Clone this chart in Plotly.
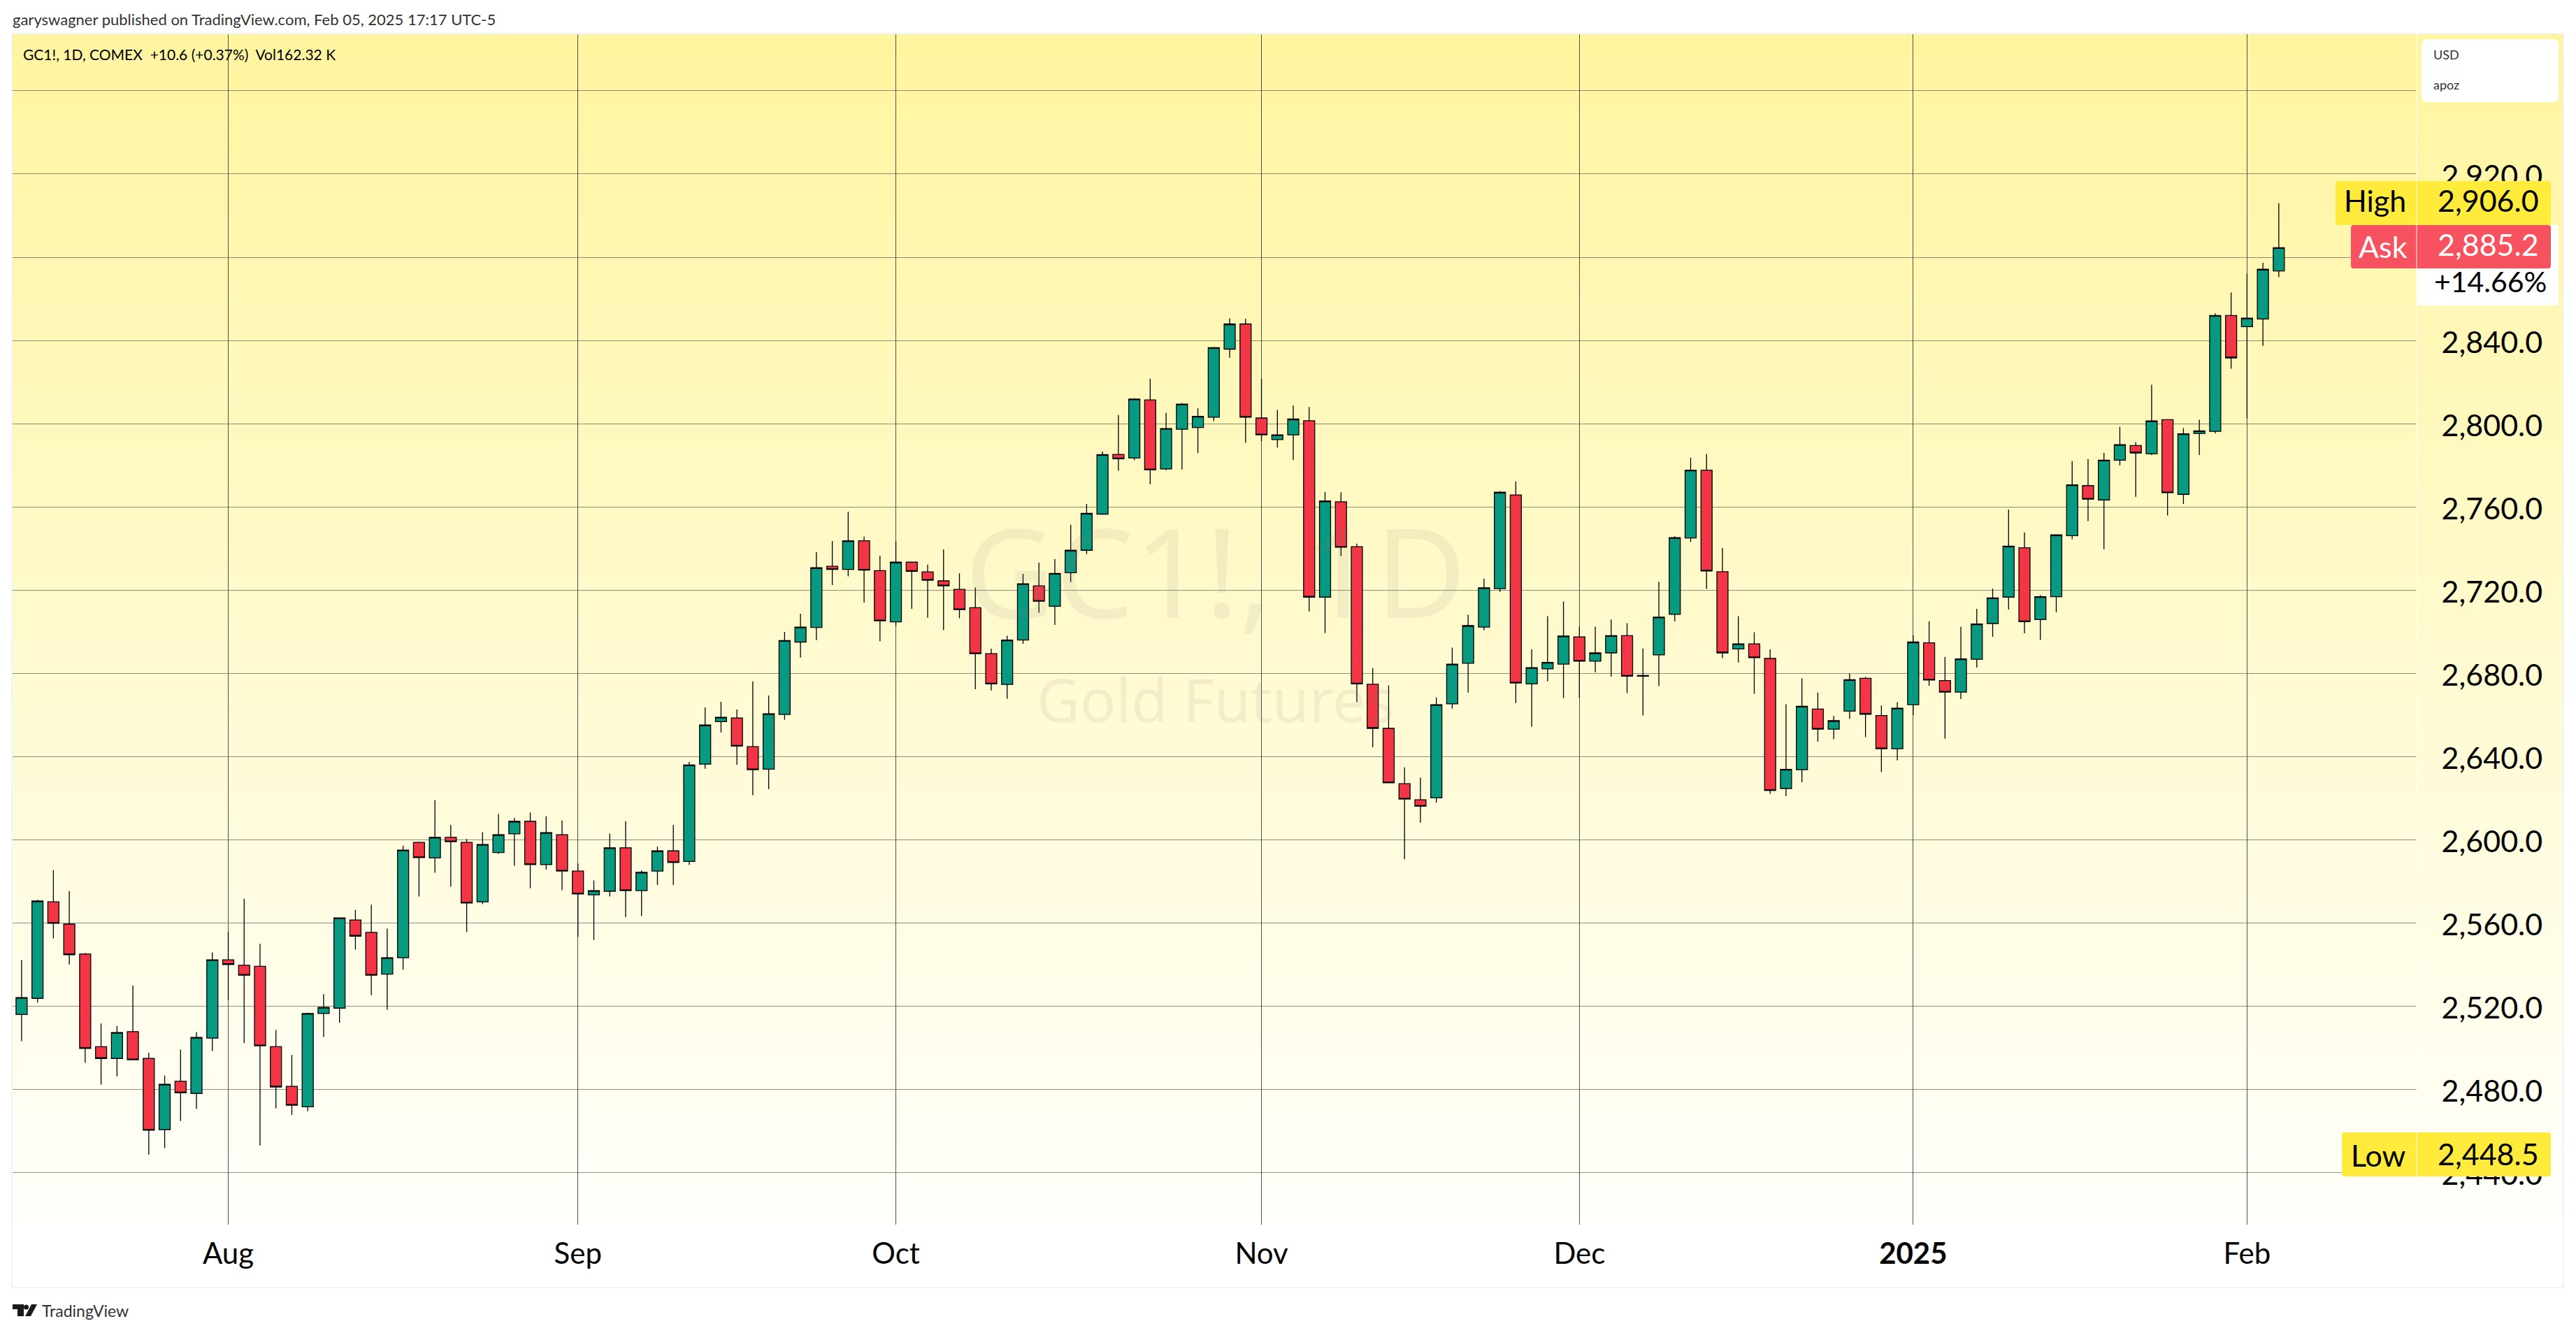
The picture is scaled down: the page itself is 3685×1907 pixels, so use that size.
import pandas as pd
import plotly.graph_objects as go

W, H = 3685, 1907
PL, PR, PT, PB = 18, 3457, 49, 1752   # plot area in page pixels
FONT = "Lato"

HOLIDAYS = ["2024-09-02", "2024-11-28", "2024-12-25", "2025-01-01", "2025-01-20"]
dates = [d.strftime("%Y-%m-%d") for d in pd.bdate_range("2024-07-15", "2025-02-05") if d.strftime("%Y-%m-%d") not in HOLIDAYS]

opens = [2515.9, 2523.7, 2570.1, 2559.4, 2545.0, 2500.5, 2494.8, 2507.7, 2494.8, 2460.6,
         2483.8, 2478.0, 2504.6, 2542.2, 2539.6, 2539.1, 2500.5, 2481.4, 2471.6, 2516.4,
         2519.0, 2561.4, 2555.4, 2535.3, 2543.2, 2598.7, 2591.2, 2601.1, 2598.7, 2570.1,
         2593.8, 2602.8, 2608.8, 2588.0, 2602.4, 2584.9, 2573.5, 2575.2, 2596.1, 2575.5,
         2584.9, 2594.6, 2589.5, 2636.3, 2656.7, 2658.5, 2644.7, 2633.9, 2660.2, 2695.0,
         2702.0, 2731.4, 2729.9, 2743.7, 2729.3, 2704.7, 2733.4, 2728.7, 2724.4, 2720.3,
         2711.5, 2689.4, 2674.6, 2696.0, 2722.0, 2712.2, 2728.3, 2739.1, 2756.5, 2785.2,
         2783.5, 2811.4, 2778.2, 2797.3, 2798.1, 2803.1, 2835.8, 2847.9, 2802.7, 2792.3,
         2794.6, 2801.4, 2716.6, 2762.4, 2740.8, 2674.7, 2653.5, 2626.9, 2619.2, 2620.1,
         2665.3, 2684.8, 2702.2, 2720.7, 2765.7, 2674.9, 2682.1, 2684.4, 2697.5, 2685.8,
         2689.8, 2698.1, 2678.9, 2688.8, 2708.3, 2745.0, 2777.6, 2728.8, 2691.7, 2694.1,
         2687.1, 2624.6, 2633.6, 2662.8, 2653.1, 2661.8, 2677.6, 2659.7, 2643.7, 2664.9,
         2694.6, 2676.5, 2670.9, 2686.7, 2703.9, 2716.6, 2740.3, 2705.8, 2716.8, 2746.1,
         2770.2, 2763.3, 2782.4, 2789.5, 2785.5, 2801.9, 2766.0, 2795.3, 2796.3, 2852.0,
         2846.6, 2850.3, 2873.4]
highs = [2542.1, 2571.1, 2585.4, 2575.3, 2545.5, 2511.6, 2510.4, 2529.9, 2497.6, 2486.6,
         2499.1, 2507.5, 2545.8, 2555.7, 2571.6, 2549.9, 2508.5, 2496.5, 2516.8, 2525.7,
         2562.4, 2566.2, 2568.7, 2557.2, 2597.1, 2599.0, 2619.0, 2607.0, 2600.3, 2603.6,
         2612.3, 2610.4, 2613.1, 2611.2, 2609.2, 2588.5, 2580.4, 2602.9, 2608.9, 2585.2,
         2596.6, 2607.0, 2637.4, 2663.6, 2666.3, 2662.6, 2676.1, 2669.3, 2699.9, 2708.6,
         2738.2, 2743.6, 2757.7, 2745.7, 2736.5, 2743.6, 2733.6, 2732.2, 2739.5, 2728.1,
         2721.2, 2691.8, 2698.0, 2727.8, 2733.2, 2734.9, 2751.4, 2761.4, 2786.7, 2804.1,
         2812.2, 2821.6, 2805.2, 2809.9, 2807.3, 2836.9, 2850.6, 2850.4, 2821.5, 2806.6,
         2808.7, 2808.0, 2767.2, 2767.0, 2742.3, 2682.5, 2674.2, 2634.8, 2629.8, 2668.4,
         2692.3, 2708.1, 2725.5, 2767.6, 2772.2, 2691.5, 2707.4, 2714.5, 2702.4, 2702.4,
         2705.8, 2704.1, 2691.9, 2724.0, 2745.8, 2783.6, 2785.4, 2740.2, 2707.4, 2699.7,
         2691.5, 2665.1, 2677.6, 2670.7, 2659.5, 2679.8, 2678.2, 2664.5, 2666.1, 2698.3,
         2705.0, 2687.9, 2702.3, 2711.0, 2720.7, 2758.7, 2747.7, 2717.6, 2746.5, 2782.0,
         2783.0, 2785.9, 2798.4, 2791.1, 2818.7, 2801.9, 2797.8, 2801.9, 2853.0, 2863.0,
         2872.1, 2877.3, 2906.0]
lows = [2503.1, 2521.6, 2552.5, 2540.0, 2492.7, 2482.2, 2486.2, 2494.0, 2448.5, 2451.7,
        2464.7, 2470.5, 2498.4, 2522.9, 2502.2, 2453.0, 2470.8, 2467.7, 2469.4, 2505.1,
        2511.9, 2547.1, 2525.2, 2518.2, 2537.4, 2572.7, 2584.1, 2577.4, 2555.5, 2569.0,
        2593.2, 2587.5, 2576.6, 2585.6, 2575.7, 2553.3, 2551.8, 2572.7, 2562.8, 2563.3,
        2578.1, 2578.1, 2587.9, 2634.1, 2651.5, 2636.0, 2621.3, 2624.3, 2657.6, 2687.5,
        2695.9, 2722.4, 2726.6, 2714.0, 2695.3, 2702.8, 2711.0, 2706.7, 2700.7, 2706.4,
        2672.3, 2671.7, 2667.7, 2694.2, 2709.1, 2703.2, 2723.8, 2737.3, 2756.2, 2777.3,
        2782.4, 2770.9, 2777.6, 2777.9, 2785.8, 2801.2, 2831.7, 2790.8, 2791.5, 2788.5,
        2782.5, 2709.7, 2699.3, 2736.3, 2666.1, 2644.4, 2627.1, 2590.6, 2608.1, 2617.8,
        2663.0, 2670.7, 2700.6, 2719.1, 2665.7, 2654.3, 2676.1, 2668.0, 2668.2, 2680.5,
        2678.4, 2670.5, 2659.7, 2673.8, 2704.9, 2743.1, 2720.5, 2687.3, 2685.2, 2670.1,
        2622.0, 2620.9, 2627.6, 2647.1, 2648.3, 2658.0, 2649.3, 2632.5, 2638.1, 2659.9,
        2674.0, 2648.5, 2667.6, 2682.7, 2697.5, 2710.6, 2699.2, 2696.0, 2709.3, 2744.4,
        2753.1, 2739.6, 2779.9, 2764.8, 2784.9, 2755.8, 2761.4, 2784.9, 2795.3, 2826.4,
        2802.5, 2837.4, 2870.4]
closes = [2524.1, 2570.5, 2559.8, 2544.7, 2499.6, 2494.8, 2507.3, 2494.2, 2460.3, 2482.4,
          2478.3, 2504.9, 2542.2, 2540.0, 2534.8, 2500.9, 2481.1, 2472.3, 2516.4, 2519.4,
          2562.4, 2553.6, 2534.8, 2543.2, 2595.0, 2591.4, 2601.1, 2599.0, 2569.5, 2597.7,
          2602.4, 2608.8, 2588.0, 2603.4, 2584.9, 2573.9, 2575.5, 2596.1, 2575.5, 2584.3,
          2594.6, 2589.0, 2635.9, 2655.1, 2658.8, 2645.0, 2633.6, 2660.5, 2695.7, 2702.2,
          2730.7, 2729.9, 2743.7, 2729.6, 2705.2, 2733.4, 2729.0, 2724.7, 2722.0, 2710.6,
          2689.4, 2674.9, 2696.0, 2723.0, 2714.6, 2728.0, 2739.1, 2756.9, 2785.1, 2783.1,
          2811.8, 2777.8, 2797.6, 2809.4, 2803.5, 2836.5, 2847.9, 2803.1, 2794.6, 2794.6,
          2802.2, 2716.6, 2762.8, 2740.6, 2674.9, 2653.5, 2627.3, 2619.5, 2616.1, 2664.9,
          2684.4, 2702.9, 2721.1, 2767.0, 2675.3, 2682.7, 2685.2, 2697.9, 2685.8, 2689.8,
          2698.1, 2678.6, 2678.6, 2707.0, 2745.2, 2777.6, 2729.2, 2689.8, 2694.1, 2687.5,
          2623.6, 2633.8, 2664.1, 2653.1, 2657.2, 2676.9, 2660.3, 2643.7, 2663.2, 2695.0,
          2676.7, 2670.9, 2686.9, 2703.7, 2716.2, 2741.1, 2704.8, 2716.8, 2746.5, 2770.6,
          2763.7, 2782.4, 2789.9, 2785.9, 2801.3, 2766.8, 2795.1, 2796.5, 2852.0, 2831.6,
          2850.7, 2874.2, 2884.6]

price_ticks = [2440, 2480, 2520, 2560, 2600, 2640, 2680, 2720, 2760, 2800, 2840, 2880, 2920, 2960]
price_labels = ["2,440.0", "2,480.0", "2,520.0", "2,560.0", "2,600.0", "2,640.0", "2,680.0",
                "2,720.0", "2,760.0", "2,800.0", "2,840.0", "2,880.0", "2,920.0", ""]
month_ticks = ["2024-08-01", "2024-09-03", "2024-10-01", "2024-11-01", "2024-12-02", "2025-01-02", "2025-02-03"]
month_labels = ["Aug", "Sep", "Oct", "Nov", "Dec", "<b>2025</b>", "Feb"]


def px_x(p):
    return (p - PL) / (PR - PL)


def px_y(p):
    return 1 - (p - PT) / (PB - PT)


def rrect(x0, y0, x1, y1, fill, r=4, layer="above"):
    path = (f"M{px_x(x0+r)},{px_y(y0)} L{px_x(x1-r)},{px_y(y0)} Q{px_x(x1)},{px_y(y0)} {px_x(x1)},{px_y(y0+r)} "
            f"L{px_x(x1)},{px_y(y1-r)} Q{px_x(x1)},{px_y(y1)} {px_x(x1-r)},{px_y(y1)} "
            f"L{px_x(x0+r)},{px_y(y1)} Q{px_x(x0)},{px_y(y1)} {px_x(x0)},{px_y(y1-r)} "
            f"L{px_x(x0)},{px_y(y0+r)} Q{px_x(x0)},{px_y(y0)} {px_x(x0+r)},{px_y(y0)} Z")
    return dict(type="path", xref="paper", yref="paper", path=path, fillcolor=fill,
                line=dict(width=0), layer=layer)


def prect(x0, y0, x1, y1, fill, layer="above", line=None):
    return dict(type="rect", xref="paper", yref="paper", x0=px_x(x0), x1=px_x(x1), y0=px_y(y0), y1=px_y(y1),
                fillcolor=fill, line=line or dict(width=0), layer=layer)


shapes = []
# vertical background gradient, painted top-down so bands overlap
STEPS = 110
for k in range(STEPS):
    t = k / STEPS
    y0 = PT + (PB - PT) * t
    g = round(245 + 10 * t)
    b = round(160 + 92 * t)
    shapes.append(prect(PL, y0, 3667, PB, f"rgb(255,{g},{b})", layer="below"))
# outer frame
shapes.append(prect(PL - 1, PT - 1, 3667, 1842, "rgba(0,0,0,0)", layer="below", line=dict(color="#F0F3FA", width=2)))
# boxes on the right
shapes.append(rrect(3464, 56, 3660, 146, "#FFFFFF", r=8))
shapes.append(rrect(3457, 322, 3660, 437, "#FFFFFF", r=4))
shapes.append(rrect(3341, 259, 3649, 322, "#FFEB3B"))
shapes.append(rrect(3363, 322, 3649, 384, "#F7525F"))
shapes.append(rrect(3350, 1620, 3649, 1683, "#FFEB3B"))
# thin separator between plot and price axis
shapes.append(dict(type="line", xref="paper", yref="paper", x0=1, x1=1, y0=px_y(1752), y1=px_y(49),
                   line=dict(color="rgba(255,255,255,0.9)", width=1), layer="above"))
# TradingView mark
for pth in ["M18,1866 H34 V1883 H25 V1873 H18 Z", "M45,1866 H53 L44,1883 H36 Z"]:
    parts = pth.split()
    out, cx, cy = [], 0, 0
    for tok in parts:
        if tok == "Z":
            out.append("Z")
        elif tok[0] == "H":
            cx = float(tok[1:]); out.append(f"L{px_x(cx)},{px_y(cy)}")
        elif tok[0] == "V":
            cy = float(tok[1:]); out.append(f"L{px_x(cx)},{px_y(cy)}")
        else:
            cx, cy = map(float, tok[1:].split(",")); out.append(f"{tok[0]}{px_x(cx)},{px_y(cy)}")
    shapes.append(dict(type="path", xref="paper", yref="paper", path=" ".join(out), fillcolor="#1a1a1a",
                       line=dict(width=0), layer="above"))
shapes.append(dict(type="circle", xref="paper", yref="paper", x0=px_x(34), x1=px_x(41), y0=px_y(1873.5), y1=px_y(1866.5),
                   fillcolor="#1a1a1a", line=dict(width=0), layer="above"))


def note(x, y, text, size, color="#000000", anchor="left", font=FONT):
    return dict(xref="paper", yref="paper", x=px_x(x), y=px_y(y), text=text, showarrow=False,
                xanchor=anchor, yanchor="middle", borderpad=0, borderwidth=0,
                font=dict(family=font, size=size, color=color))


WM = "rgba(130,130,130,0.10)"
VAL = 43
annotations = [
    note(1739, 815, "GC1!, 1D", 178, WM, "center", "Noto Sans"),
    note(1739, 1000, "Gold Futures", 85, WM, "center", "Noto Sans"),
    note(18, 28, "garyswagner published on TradingView.com, Feb 05, 2025 17:17 UTC-5", 22, "#333333"),
    note(33, 77, "GC1!, 1D, COMEX  +10.6 (+0.37%)  Vol162.32 K", 21),
    note(3481, 78, "USD", 18, "#333333"),
    note(3481, 121, "apoz", 18, "#333333"),
    note(3442, 287, "High", VAL, anchor="right"),
    note(3632, 287, "2,906.0", VAL, anchor="right"),
    note(3444, 352, "Ask", VAL, "#FFFFFF", "right"),
    note(3632, 349, "2,885.2", VAL, "#FFFFFF", "right"),
    note(3643, 402, "+14.66%", 41, anchor="right"),
    note(3442, 1652, "Low", VAL, anchor="right"),
    note(3632, 1650, "2,448.5", VAL, anchor="right"),
    note(60, 1875, "TradingView", 23, "#333333"),
]

fig = go.Figure(go.Candlestick(
    x=dates, open=opens, high=highs, low=lows, close=closes, whiskerwidth=0,
    increasing=dict(fillcolor="#089981", line=dict(color="#000000", width=1.3)),
    decreasing=dict(fillcolor="#F23645", line=dict(color="#000000", width=1.3)),
))
fig.update_layout(
    width=W, height=H, autosize=False, showlegend=False,
    margin=dict(l=PL, r=W - PR, t=PT, b=H - PB, pad=0),
    paper_bgcolor="#FFFFFF", plot_bgcolor="rgba(0,0,0,0)",
    font=dict(family=FONT, color="#000000"), boxgap=0.30, boxgroupgap=0,
    shapes=shapes, annotations=annotations,
    xaxis=dict(type="category", categoryorder="array", categoryarray=dates,
               range=[-0.567, 150.67], rangeslider=dict(visible=False),
               tickmode="array", tickvals=month_ticks, ticktext=month_labels,
               showgrid=True, gridcolor="rgba(50,50,50,0.85)", gridwidth=1, zeroline=False,
               ticks="outside", ticklen=5, tickcolor="rgba(0,0,0,0)",
               tickfont=dict(family=FONT, size=42, color="#000000"), showline=False),
    yaxis=dict(side="right", range=[2414.9, 2987.2], tickmode="array",
               tickvals=price_ticks, ticktext=price_labels, ticklabelshift=3,
               showgrid=True, gridcolor="rgba(70,70,60,0.6)", gridwidth=1, zeroline=False,
               ticks="outside", ticklen=26, tickcolor="rgba(0,0,0,0)",
               tickfont=dict(family=FONT, size=VAL, color="#000000"), showline=False),
)
fig.write_html("out.html", config=dict(displayModeBar=False),
               post_script="document.body.style.margin='0';document.body.style.overflow='hidden';")
